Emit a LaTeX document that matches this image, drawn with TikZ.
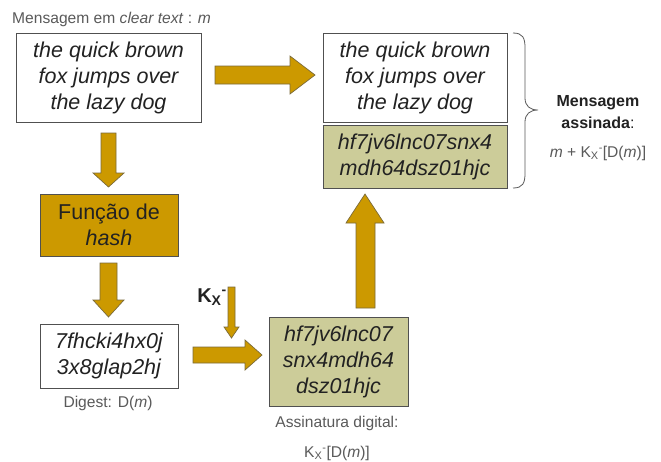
\documentclass[tikz,border=0pt]{standalone}
\usepackage{fontspec}
\setmainfont{Liberation Sans}
\definecolor{gold}{HTML}{CC9900}
\definecolor{goldedge}{HTML}{7A6A3A}
\definecolor{olive}{HTML}{CCCC99}
\definecolor{boxedge}{HTML}{505050}
\definecolor{txt}{HTML}{222222}
\definecolor{lbl}{HTML}{5A5A5A}
\newcommand{\kxm}{K\textsubscript{X}\textsuperscript{-}}
\begin{document}
\begin{tikzpicture}[x=1pt,y=-1pt,
  boxtext/.style={font=\fontsize{21.5}{26}\selectfont\itshape, text=txt, align=center, inner sep=0pt},
  plainbox/.style={boxtext, draw=boxedge, line width=0.9pt, fill=white},
  sigbox/.style={boxtext, draw=boxedge, line width=0.9pt, fill=olive},
  hashbox/.style={font=\fontsize{21.5}{26}\selectfont, text=txt, align=center, draw=boxedge, line width=0.9pt, fill=gold, inner sep=0pt},
  blk/.style={fill=gold, draw=goldedge, line width=0.7pt, line join=miter},
  lab/.style={font=\fontsize{15.6}{18}\selectfont, text=lbl, inner sep=0pt},
  blab/.style={font=\fontsize{16}{19}\selectfont\bfseries, text=txt, inner sep=0pt}]
\useasboundingbox (0,0) rectangle (661,461);
\fill[white] (0,0) rectangle (661,461);

% boxes
\node[plainbox, minimum width=185, minimum height=89] (msg) at (108.5,77.5)
  {the quick brown\\fox jumps over\\the lazy dog};
\node[plainbox, minimum width=184, minimum height=89] (msg2) at (415,77.5)
  {the quick brown\\fox jumps over\\the lazy dog};
\node[sigbox, minimum width=184, minimum height=63] (sig2) at (415,156.5)
  {hf7jv6lnc07snx4\\mdh64dsz01hjc};
\node[hashbox, minimum width=138, minimum height=62] (hash) at (109,225)
  {Função de\\\textit{hash}};
\node[plainbox, minimum width=138, minimum height=64] (dig) at (109,356)
  {7fhcki4hx0j\\3x8glap2hj};
\node[sigbox, minimum width=139, minimum height=89] (sig) at (338.5,361.5)
  {hf7jv6lnc07\\snx4mdh64\\dsz01hjc};

% labels
\node[lab, anchor=west] (lmsg) at (12,19) {Mensagem em \textit{clear text} : \textit{m}};
\node[lab] (ldig) at (108,403) {Digest: D(\textit{m})};
\node[lab] (lsig) at (337,423) {Assinatura digital:};
\node[lab] (lsig2) at (337,453) {\kxm[D(\textit{m})]};
\node[blab] (lma) at (598,103) {Mensagem};
\node[blab] (lmb) at (598,123) {assinada\textmd{:}};
\node[lab] (lmc) at (598,153) {\textit{m} + \kxm[D(\textit{m})]};
\node[font=\fontsize{20}{24}\selectfont\bfseries, text=txt, inner sep=0pt] (kx) at (212,297) {\kxm};

% brace
\draw[lbl, line width=0.8pt] (513,33) .. controls (523,33) and (525,38) .. (525,48)
  -- (525,98) .. controls (525,106) and (530,110) .. (538,110)
  .. controls (530,110) and (525,114) .. (525,122)
  -- (525,173) .. controls (525,183) and (523,188) .. (513,188);

% block arrows
\draw[blk] (215,66) -- (290,66) -- (290,56) -- (315,75) -- (290,94) -- (290,84) -- (215,84) -- cycle;
\draw[blk] (101,133) -- (116,133) -- (116,173) -- (124,173) -- (108.5,187) -- (93,173) -- (101,173) -- cycle;
\draw[blk] (100,263) -- (117,263) -- (117,300) -- (124,300) -- (108.5,317) -- (93,300) -- (100,300) -- cycle;
\draw[blk] (228,287) -- (235,287) -- (235,327) -- (239,327) -- (231.5,338) -- (224,327) -- (228,327) -- cycle;
\draw[blk] (193,347) -- (245,347) -- (245,340) -- (262,355) -- (245,370) -- (245,363) -- (193,363) -- cycle;
\draw[blk] (356,308) -- (375,308) -- (375,223) -- (384,223) -- (365,194) -- (346,223) -- (356,223) -- cycle;
\end{tikzpicture}
\end{document}
